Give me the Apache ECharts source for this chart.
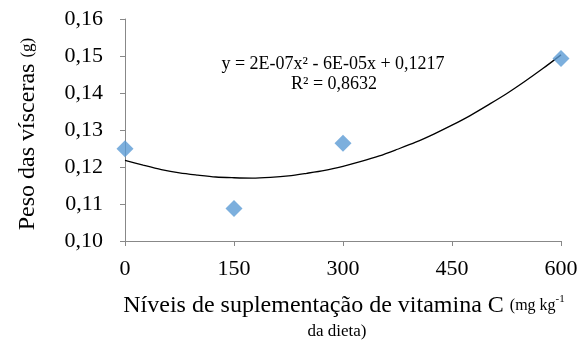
<!DOCTYPE html>
<html><head><meta charset="utf-8">
<script src="https://cdn.jsdelivr.net/npm/echarts@6/dist/echarts.min.js"></script>
<style>html,body{margin:0;padding:0;background:#fff}#c{width:582px;height:344px}</style>
</head><body><div id="c"></div>
<script>
// Observed data
var levels = [0, 150, 300, 600];
var weights = [0.1249, 0.1088, 0.1264, 0.1493];
// Trendline values
var trendX = [0, 25, 50, 75, 100, 125, 150, 175, 200, 225, 250, 275, 300, 325, 350, 375, 400, 425, 450, 475, 500, 525, 550, 575, 600];
var trendY = [0.1218, 0.1205, 0.1193, 0.1184, 0.1178, 0.1173, 0.1171, 0.1170, 0.1172, 0.1176, 0.1183, 0.1191, 0.1202, 0.1215, 0.1230, 0.1248, 0.1267, 0.1289, 0.1313, 0.1339, 0.1368, 0.1398, 0.1431, 0.1466, 0.1503];
var yTicks = ['0,10','0,11','0,12','0,13','0,14','0,15','0,16'];

var serif = '"Liberation Serif","Times New Roman",serif';
var chart = echarts.init(document.getElementById('c'));
chart.setOption({
  animation: false,
  grid: {left: 125, right: 21, top: 19, bottom: 103},
  xAxis: {
    type: 'value', min: 0, max: 600, interval: 150,
    axisLine: {lineStyle: {color: '#888'}},
    axisTick: {show: true, inside: false, length: 5, lineStyle: {color: '#888'}},
    splitLine: {show: false},
    axisLabel: {color: '#000', fontFamily: serif, fontSize: 22, margin: 17}
  },
  yAxis: {
    type: 'value', min: 0.10, max: 0.16, interval: 0.01,
    axisLine: {show: true, lineStyle: {color: '#888'}},
    axisTick: {show: true, length: 5, lineStyle: {color: '#888'}},
    splitLine: {show: false},
    axisLabel: {color: '#000', fontFamily: serif, fontSize: 22, margin: 22,
      formatter: function (v) { return yTicks[Math.round((v - 0.10) * 100)]; }}
  },
  series: [
    {type: 'line', data: trendX.map(function (x, i) { return [x, trendY[i]]; }),
     smooth: 0.3, symbol: 'none', lineStyle: {color: '#000', width: 1.3}, z: 2},
    {type: 'scatter', data: levels.map(function (x, i) { return [x, weights[i]]; }),
     symbol: 'diamond', symbolSize: [17, 17], itemStyle: {color: '#5B9BD5'}, z: 3}
  ],
  graphic: [
    {type: 'text', style: {x: 333, y: 64, text: 'y = 2E-07x² - 6E-05x + 0,1217', fill: '#000', font: '18px ' + serif, align: 'center', verticalAlign: 'middle'}},
    {type: 'text', style: {x: 334, y: 84, text: 'R² = 0,8632', fill: '#000', font: '18px ' + serif, align: 'center', verticalAlign: 'middle'}},
    {type: 'text', style: {x: 344, y: 318, rich: {
        a: {fontFamily: serif, fontSize: 24, fill: '#000'},
        b: {fontFamily: serif, fontSize: 16, fill: '#000'},
        s: {fontFamily: serif, fontSize: 11, fill: '#000', verticalAlign: 'top', padding: [0,0,9,0]}
      }, text: '{a|Níveis de suplementação de vitamina C }{b|(mg kg}{s|-1}', align: 'center', verticalAlign: 'bottom'}},
    {type: 'text', style: {x: 337, y: 340, text: 'da dieta)', fill: '#000', font: '17px ' + serif, align: 'center', verticalAlign: 'bottom'}},
    {type: 'text', rotation: Math.PI / 2, x: 28, y: 134, style: {x: 0, y: 0, rich: {
        a: {fontFamily: serif, fontSize: 24, fill: '#000'},
        b: {fontFamily: serif, fontSize: 17, fill: '#000'}
      }, text: '{a|Peso das vísceras }{b|(g)}', align: 'center', verticalAlign: 'middle'}}
  ]
});
</script></body></html>
